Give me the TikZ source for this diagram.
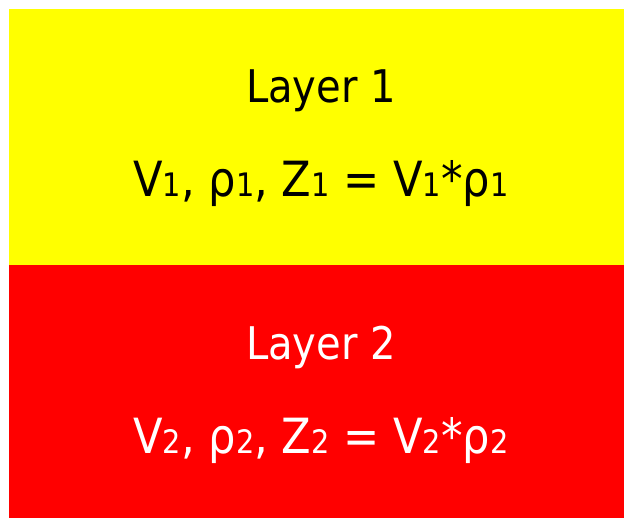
\documentclass[tikz,border=0pt]{standalone}
\usepackage{fontspec}
\setmainfont{DejaVu Sans}[FakeStretch=0.89]
\usetikzlibrary{positioning}

\definecolor{layeryellow}{RGB}{255,255,0}
\definecolor{layerred}{RGB}{255,0,0}

\newcommand{\lsub}[1]{{\fontsize{23pt}{23pt}\selectfont #1}}

\begin{document}
\begin{tikzpicture}[
  x=0.025cm, y=-0.025cm,
  layertitle/.style={anchor=base, inner sep=0pt, font=\fontsize{32pt}{36pt}\selectfont},
  layereqn/.style={anchor=base, inner sep=0pt, font=\fontsize{34.5pt}{38pt}\selectfont}
]

\useasboundingbox (0,0) rectangle (624,518);

% two layers
\fill[layeryellow] (9,9) rectangle (624,265);
\fill[layerred] (9,265) rectangle (624,518);

\node[layertitle] (title1) at (321,103) {Layer 1};
\node[layereqn] (eqn1) at (321,197) {V\lsub{1}, ρ\lsub{1}, Z\lsub{1} = V\lsub{1}*ρ\lsub{1}};

\node[layertitle, text=white] (title2) at (321,359) {Layer 2};
\node[layereqn, text=white] (eqn2) at (321,453) {V\lsub{2}, ρ\lsub{2}, Z\lsub{2} = V\lsub{2}*ρ\lsub{2}};

\end{tikzpicture}
\end{document}
